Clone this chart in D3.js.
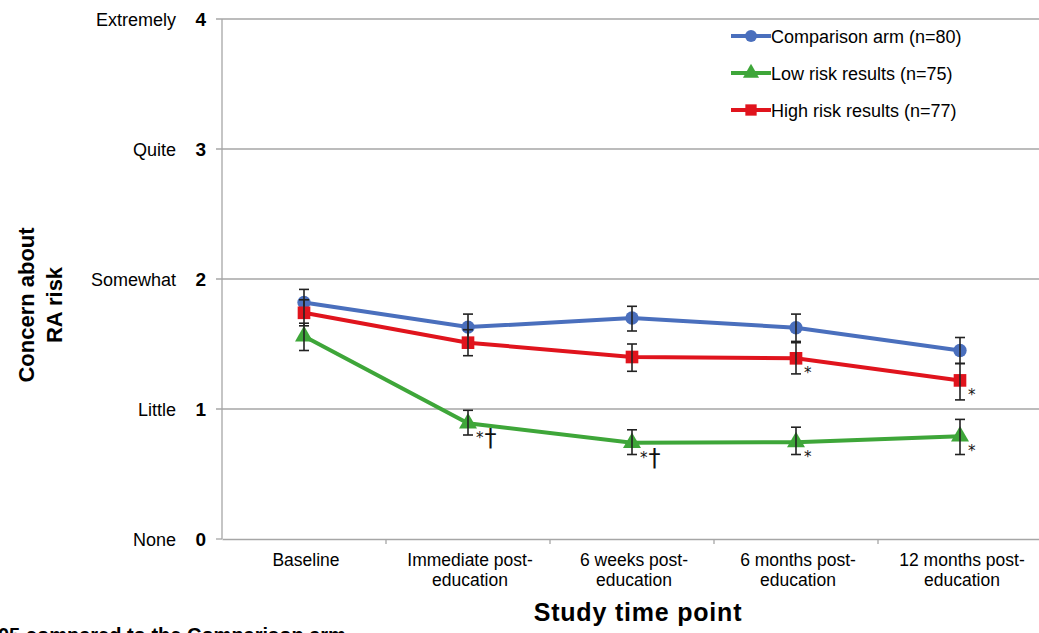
<!DOCTYPE html>
<html><head><meta charset="utf-8">
<script src="https://cdn.jsdelivr.net/npm/d3@7"></script>
<style>body{margin:0;background:#fff}svg{display:block;font-family:"Liberation Sans",Arial,sans-serif}</style>
</head><body>
<svg id="c" width="1039" height="633"></svg>
<script>
const categories = ["Baseline", "Immediate post-|education", "6 weeks post-|education", "6 months post-|education", "12 months post-|education"];
const yTicks = [0, 1, 2, 3, 4];
const yTickNames = ["None", "Little", "Somewhat", "Quite", "Extremely"];
const seriesNames = ["Comparison arm (n=80)", "Low risk results (n=75)", "High risk results (n=77)"];
const comparisonMean = [1.82, 1.63, 1.70, 1.625, 1.45];
const comparisonLo = [1.72, 1.53, 1.60, 1.52, 1.35];
const comparisonHi = [1.92, 1.73, 1.79, 1.73, 1.55];
const lowMean = [1.56, 0.89, 0.74, 0.745, 0.79];
const lowLo = [1.45, 0.80, 0.65, 0.65, 0.65];
const lowHi = [1.66, 0.99, 0.84, 0.86, 0.92];
const highMean = [1.74, 1.51, 1.40, 1.39, 1.22];
const highLo = [1.64, 1.41, 1.29, 1.27, 1.07];
const highHi = [1.84, 1.61, 1.50, 1.51, 1.35];
const lowMarks = ["", "*†", "*†", "*", "*"];
const highMarks = ["", "", "", "*", "*"];

const svg = d3.select("#c");
const x = d3.scaleBand().domain(categories).range([222, 1042]);
const y = d3.scaleLinear().domain([0, 4]).range([539, 19]);
const cx = c => x(c) + x.bandwidth() / 2;

// gridlines
svg.append("g").selectAll("line").data(yTicks.slice(1)).join("line")
  .attr("x1", 216).attr("x2", 1042).attr("y1", d => y(d)).attr("y2", d => y(d))
  .attr("stroke", "#a6a6a6").attr("stroke-width", 1.3);
// y axis line
svg.append("line").attr("x1", 222).attr("x2", 222).attr("y1", y(4)).attr("y2", y(0))
  .attr("stroke", "#a6a6a6").attr("stroke-width", 1.3);
// x axis
const xAxis = svg.append("g").attr("transform", `translate(0,${y(0)})`)
  .call(d3.axisBottom(x).tickSize(0).tickFormat(""));
xAxis.select(".domain").attr("stroke", "#a6a6a6").attr("stroke-width", 1.3);
svg.append("line").attr("x1", 216).attr("x2", 222).attr("y1", y(0)).attr("y2", y(0)).attr("stroke", "#a6a6a6").attr("stroke-width", 1.3);
svg.append("g").selectAll("line").data(categories.slice(1)).join("line")
  .attr("x1", d => x(d)).attr("x2", d => x(d)).attr("y1", y(0)).attr("y2", y(0) + 5)
  .attr("stroke", "#a6a6a6").attr("stroke-width", 1.3);

// y tick numbers and names
svg.append("g").selectAll("text").data(yTicks).join("text")
  .attr("x", 206).attr("y", d => y(d) + 7).attr("text-anchor", "end")
  .attr("font-weight", "bold").attr("font-size", 19).text(d => d);
svg.append("g").selectAll("text").data(yTicks).join("text")
  .attr("x", 176).attr("y", d => y(d) + 7).attr("text-anchor", "end")
  .attr("font-size", 18).text((d, i) => yTickNames[i]);

// x category labels
const xl = svg.append("g").selectAll("text").data(categories).join("text")
  .attr("text-anchor", "middle").attr("font-size", 17.5)
  .attr("transform", d => `translate(${cx(d) + 2},0)`);
xl.each(function(d) {
  const parts = d.split("|");
  parts.forEach((p, i) => d3.select(this).append("tspan").attr("x", 0).attr("y", 566 + i * 20).text(p));
});

// axis titles
svg.append("text").attr("x", 638).attr("y", 621).attr("text-anchor", "middle")
  .attr("font-weight", "bold").attr("font-size", 25).attr("letter-spacing", 0.8).text("Study time point");
const yt = svg.append("text").attr("transform", "translate(0,305) rotate(-90)")
  .attr("text-anchor", "middle").attr("font-weight", "bold").attr("font-size", 22);
yt.append("tspan").attr("x", 0).attr("y", 34).text("Concern about");
yt.append("tspan").attr("x", 0).attr("y", 62).text("RA risk");

// footnote (cut off at bottom, as in the source)
svg.append("text").attr("x", -2).attr("y", 642).attr("font-weight", "bold").attr("font-size", 20)
  .text("05 compared to the Comparison arm");

const series = [
  {name: seriesNames[0], mean: comparisonMean, lo: comparisonLo, hi: comparisonHi, color: "#4a6fbd", sym: d3.symbolCircle, size: 140},
  {name: seriesNames[2], mean: highMean, lo: highLo, hi: highHi, color: "#e0141d", sym: d3.symbolSquare, size: 160, marks: highMarks},
  {name: seriesNames[1], mean: lowMean, lo: lowLo, hi: lowHi, color: "#3ea639", sym: d3.symbolTriangle, size: 140, marks: lowMarks}
];
const line = d3.line().x((d, i) => cx(categories[i])).y(d => y(d));
series.forEach(s => {
  const g = svg.append("g");
  g.append("path").attr("d", line(s.mean)).attr("fill", "none").attr("stroke", s.color).attr("stroke-width", 4);
  g.selectAll("path.m").data(s.mean).join("path").attr("class", "m")
    .attr("transform", (d, i) => `translate(${cx(categories[i])},${y(d)})`)
    .attr("d", d3.symbol(s.sym, s.size)).attr("fill", s.color);
  const eb = g.selectAll("g.eb").data(s.mean).join("g").attr("class", "eb");
  eb.append("line").attr("x1", (d, i) => cx(categories[i])).attr("x2", (d, i) => cx(categories[i]))
    .attr("y1", (d, i) => y(s.lo[i])).attr("y2", (d, i) => y(s.hi[i])).attr("stroke", "#222").attr("stroke-width", 1.6);
  ["lo", "hi"].forEach(k => eb.append("line")
    .attr("x1", (d, i) => cx(categories[i]) - 5).attr("x2", (d, i) => cx(categories[i]) + 5)
    .attr("y1", (d, i) => y(s[k][i])).attr("y2", (d, i) => y(s[k][i])).attr("stroke", "#222").attr("stroke-width", 1.6));
  if (s.marks) {
    const t = g.selectAll("text").data(s.marks).join("text")
      .attr("x", (d, i) => cx(categories[i]) + 8).attr("y", (d, i) => y(s.mean[i]) + 20)
      .attr("font-family", "DejaVu Sans").attr("fill", "#111");
    t.append("tspan").attr("font-size", 15).text(d => d.replace("†", ""));
    t.append("tspan").attr("font-size", 24).attr("dx", 1).attr("dy", 3).text(d => d.includes("†") ? "†" : "");
  }
});

// legend
const legendOrder = [series[0], series[2], series[1]];
const lg = svg.append("g").selectAll("g").data(legendOrder).join("g")
  .attr("transform", (d, i) => `translate(731,${36 + i * 37})`);
lg.append("line").attr("x1", 0).attr("x2", 40).attr("stroke", d => d.color).attr("stroke-width", 4);
lg.append("path").attr("transform", "translate(20,0)").attr("d", d => d3.symbol(d.sym, d.size * 0.8)()).attr("fill", d => d.color);
lg.append("text").attr("x", 40).attr("y", 6.5).attr("font-size", 18).text(d => d.name);
</script>
</body></html>
